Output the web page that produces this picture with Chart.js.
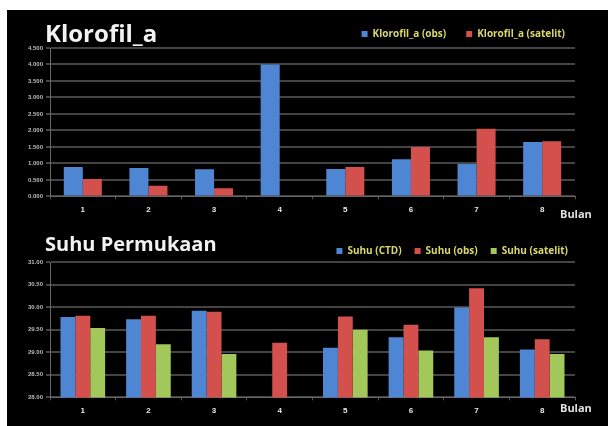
<!DOCTYPE html>
<html lang="id">
<head>
    <meta charset="UTF-8">
    <title>Klorofil_a dan Suhu Permukaan</title>
    <script src="https://cdn.jsdelivr.net/npm/chart.js"></script>
    <style>
        body { margin: 0; background: #fff; width: 608px; height: 426px; overflow: hidden; position: relative; font-family: "Open Sans", Arial, sans-serif; }
        #board { position: absolute; left: 7px; top: 10px; width: 601px; height: 416px; background: #000; }
        .box { position: absolute; left: 0; width: 601px; }
        #topBox { top: 0; height: 212px; }
        #botBox { top: 212px; height: 204px; }
        .title { position: absolute; left: 38px; color: #f2f2f2; font-weight: bold; }
        .bulan { position: absolute; left: 553px; color: #e0e0e0; font-size: 11px; font-weight: bold; }
    </style>
</head>
<body>
<div id="board">
    <div class="box" id="topBox"><canvas id="chlChart"></canvas></div>
    <div class="box" id="botBox"><canvas id="sstChart"></canvas></div>
    <div class="title" style="top:6px; font-size:24px">Klorofil_a</div>
    <div class="title" style="top:220px; font-size:20px">Suhu Permukaan</div>
    <div class="bulan" style="top:196px">Bulan</div>
    <div class="bulan" style="top:390px">Bulan</div>
</div>

<script>
    const months = ['1', '2', '3', '4', '5', '6', '7', '8'];

    const chlObs = [0.89, 0.86, 0.82, 4.00, 0.83, 1.13, 0.98, 1.65];
    const chlSat = [0.53, 0.32, 0.25, null, 0.89, 1.50, 2.05, 1.67];

    const sstCtd = [29.78, 29.73, 29.92, null, 29.10, 29.33, 29.99, 29.06];
    const sstObs = [29.81, 29.81, 29.90, 29.21, 29.79, 29.61, 30.42, 29.29];
    const sstSat = [29.54, 29.18, 28.96, null, 29.50, 29.04, 29.33, 28.96];

    const blue = '#4f86d3';
    const red = '#d4504d';
    const green = '#a2c85c';

    // legend padding also sets the gap between items, so the legend is
    // nudged into place afterwards instead of padding the whole chart
    const legendShift = {
        id: 'legendShift',
        afterLayout(chart, args, opts) {
            if (chart.legend) {
                chart.legend.top += opts.dy;
                chart.legend.bottom += opts.dy;
                chart.legend.left += opts.dx;
                chart.legend.right += opts.dx;
            }
        }
    };

    function baseOptions(yMin, yMax, yStep, decimals, pad, catPct) {
        return {
            responsive: true,
            maintainAspectRatio: false,
            animation: false,
            layout: { padding: { top: pad.top, right: 33, left: 0, bottom: pad.bottom } },
            datasets: { bar: { barPercentage: 1, categoryPercentage: catPct } },
            plugins: {
                legendShift: { dx: pad.dx, dy: pad.dy },
                legend: {
                    position: 'top',
                    align: 'end',
                    labels: {
                        color: '#d8d86c',
                        font: { size: 10, weight: 'bold', family: 'Open Sans' },
                        boxWidth: 6,
                        boxHeight: 6,
                        padding: pad.legend
                    }
                },
                tooltip: { enabled: false }
            },
            scales: {
                x: {
                    grid: { display: true, drawOnChartArea: false, color: '#555', tickLength: 3, offset: true },
                    border: { color: '#666' },
                    ticks: { color: '#e8e8e8', font: { size: 8, weight: 'bold' }, padding: 6 }
                },
                y: {
                    min: yMin,
                    max: yMax,
                    afterFit: function (scale) { scale.width = 43; },
                    grid: { color: '#444', lineWidth: 2, tickLength: 4 },
                    border: { color: '#666' },
                    ticks: {
                        stepSize: yStep,
                        color: '#bdbdbd',
                        font: { size: 6, weight: 'bold' },
                        padding: 3,
                        callback: function (v) { return v.toFixed(decimals); }
                    }
                }
            }
        };
    }

    new Chart(document.getElementById('chlChart'), {
        type: 'bar',
        data: {
            labels: months,
            datasets: [
                { label: 'Klorofil_a (obs)', data: chlObs, backgroundColor: blue },
                { label: 'Klorofil_a (satelit)', data: chlSat, backgroundColor: red }
            ]
        },
        options: baseOptions(0, 4.5, 0.5, 3, { top: -2, bottom: 1, legend: 20, dx: 10, dy: 1 }, 0.58),
        plugins: [legendShift]
    });

    new Chart(document.getElementById('sstChart'), {
        type: 'bar',
        data: {
            labels: months,
            datasets: [
                { label: 'Suhu (CTD)', data: sstCtd, backgroundColor: blue },
                { label: 'Suhu (obs)', data: sstObs, backgroundColor: red },
                { label: 'Suhu (satelit)', data: sstSat, backgroundColor: green }
            ]
        },
        options: baseOptions(28, 31, 0.5, 2, { top: 7, bottom: 4, legend: 13, dx: 6, dy: 4 }, 0.68),
        plugins: [legendShift]
    });
</script>
</body>
</html>
